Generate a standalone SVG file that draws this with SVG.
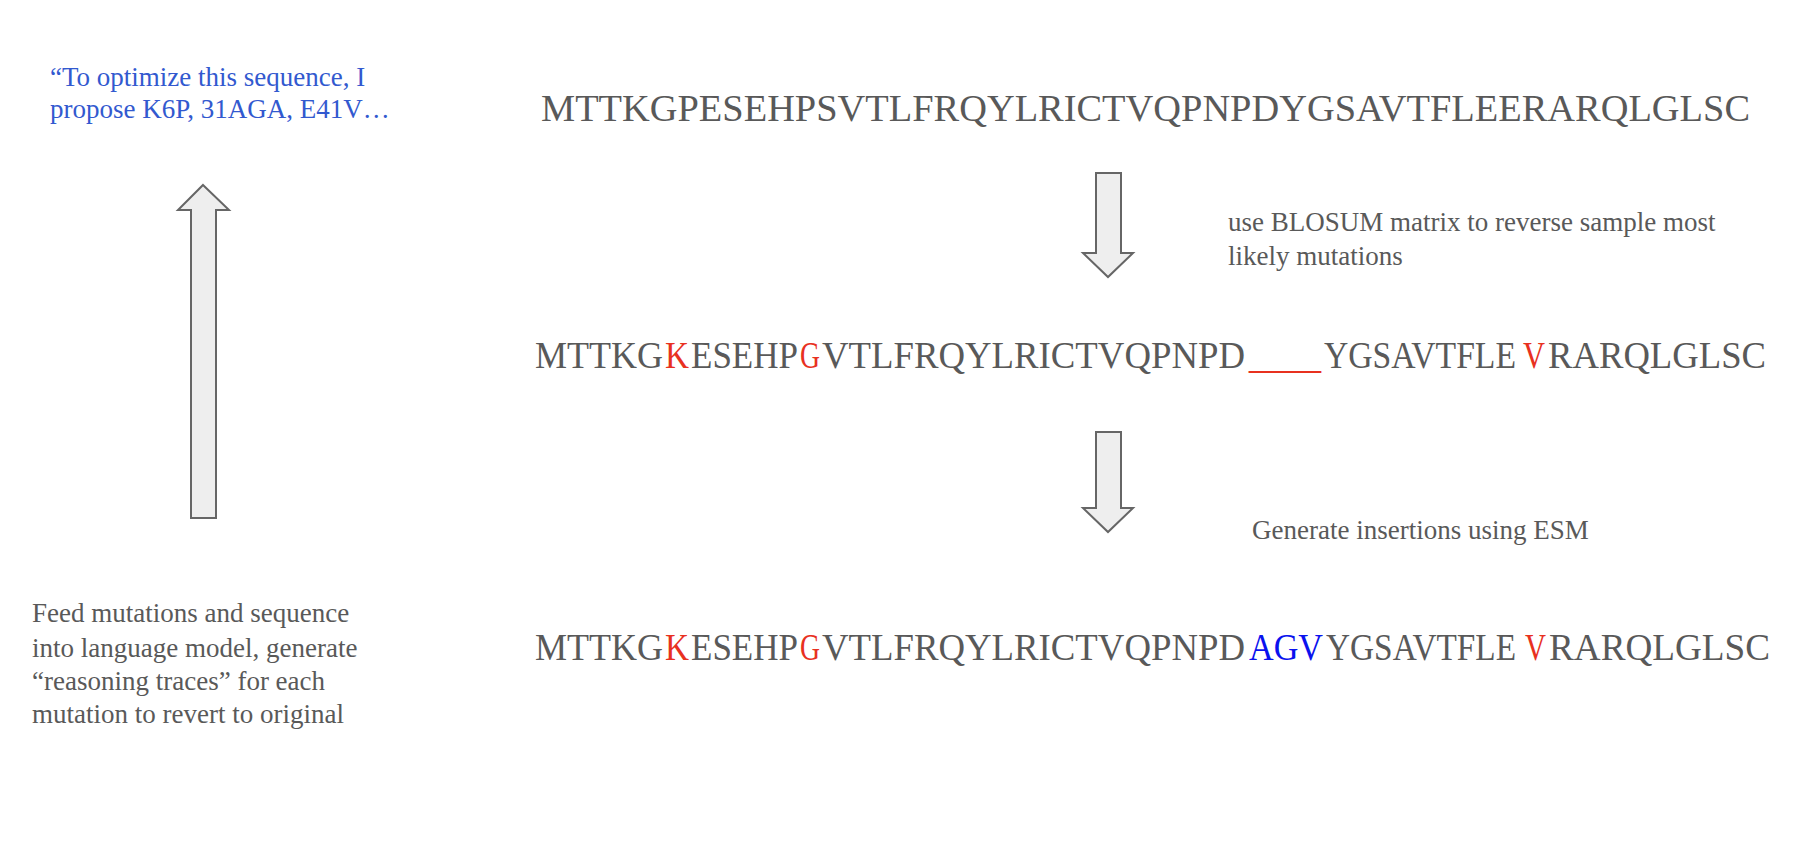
<svg xmlns="http://www.w3.org/2000/svg" width="1812" height="866" viewBox="0 0 1812 866">
<style>
.t{font-family:"Liberation Serif","Times New Roman",serif;fill:#595959}
.lbl{font-size:27px}
.seq{font-size:38.5px}
.blue{fill:#3259cf}
.red{fill:#e8311f}
.ins{fill:#0a12ee}
.arrow{fill:#eeeeee;stroke:#666666;stroke-width:2;stroke-linejoin:miter}
</style>
<rect width="1812" height="866" fill="#ffffff"/>
<g id="connectors">
<path id="arrow-up" class="arrow" d="M203,185 L229,210 L216,210 L216,518 L191,518 L191,210 L178,210 Z"/>
<path id="arrow-down-1" class="arrow" d="M1096,173 L1121,173 L1121,253 L1133,253 L1108,277 L1083,253 L1096,253 Z"/>
<path id="arrow-down-2" class="arrow" d="M1096,432 L1121,432 L1121,508 L1133,508 L1108,532 L1083,508 L1096,508 Z"/>
</g>
<g id="proposal">
<text class="t lbl blue" x="50" y="86">“To optimize this sequence, I</text>
<text class="t lbl blue" x="50" y="118">propose K6P, 31AGA, E41V…</text>
</g>
<g id="original-seq">
<text class="t seq" x="541" y="121" textLength="1209" lengthAdjust="spacingAndGlyphs">MTTKGPESEHPSVTLFRQYLRICTVQPNPDYGSAVTFLEERARQLGLSC</text>
</g>
<g id="blosum-label">
<text class="t lbl" x="1228" y="231">use BLOSUM matrix to reverse sample most</text>
<text class="t lbl" x="1228" y="265">likely mutations</text>
</g>
<g id="mutated-seq">
<text class="t seq" y="368"><tspan x="535" textLength="128" lengthAdjust="spacingAndGlyphs">MTTKG</tspan><tspan class="red" x="665" textLength="24" lengthAdjust="spacingAndGlyphs">K</tspan><tspan x="691" textLength="107" lengthAdjust="spacingAndGlyphs">ESEHP</tspan><tspan class="red" x="800" textLength="20" lengthAdjust="spacingAndGlyphs">G</tspan><tspan x="822" textLength="423" lengthAdjust="spacingAndGlyphs">VTLFRQYLRICTVQPNPD</tspan><tspan class="red" x="1249" textLength="72" lengthAdjust="spacingAndGlyphs">___</tspan><tspan x="1324" textLength="192" lengthAdjust="spacingAndGlyphs">YGSAVTFLE</tspan> <tspan class="red" x="1523" textLength="22" lengthAdjust="spacingAndGlyphs">V</tspan><tspan x="1548" textLength="218" lengthAdjust="spacingAndGlyphs">RARQLGLSC</tspan></text>
</g>
<g id="esm-label">
<text class="t lbl" x="1252" y="539">Generate insertions using ESM</text>
</g>
<g id="final-seq">
<text class="t seq" y="660"><tspan x="535" textLength="128" lengthAdjust="spacingAndGlyphs">MTTKG</tspan><tspan class="red" x="665" textLength="24" lengthAdjust="spacingAndGlyphs">K</tspan><tspan x="691" textLength="107" lengthAdjust="spacingAndGlyphs">ESEHP</tspan><tspan class="red" x="800" textLength="20" lengthAdjust="spacingAndGlyphs">G</tspan><tspan x="822" textLength="423" lengthAdjust="spacingAndGlyphs">VTLFRQYLRICTVQPNPD</tspan><tspan class="ins" x="1249" textLength="74" lengthAdjust="spacingAndGlyphs">AGV</tspan><tspan x="1326" textLength="190" lengthAdjust="spacingAndGlyphs">YGSAVTFLE</tspan> <tspan class="red" x="1525" textLength="21" lengthAdjust="spacingAndGlyphs">V</tspan><tspan x="1549" textLength="221" lengthAdjust="spacingAndGlyphs">RARQLGLSC</tspan></text>
</g>
<g id="feed-label">
<text class="t lbl" x="32" y="622">Feed mutations and sequence</text>
<text class="t lbl" x="32" y="657">into language model, generate</text>
<text class="t lbl" x="32" y="690">“reasoning traces” for each</text>
<text class="t lbl" x="32" y="723">mutation to revert to original</text>
</g>
</svg>
